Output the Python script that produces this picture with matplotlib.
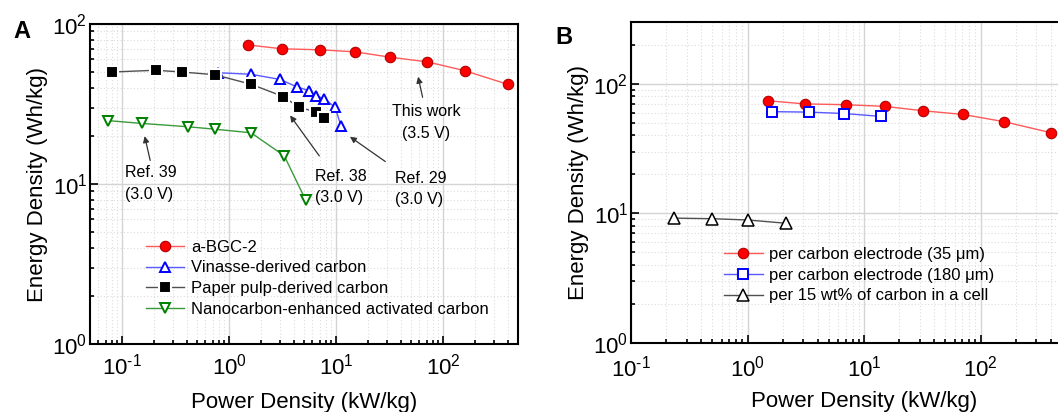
import matplotlib
matplotlib.use('Agg')
import matplotlib.pyplot as plt
from matplotlib.ticker import LogLocator, NullFormatter

plt.rcParams['font.family'] = ['Liberation Sans', 'DejaVu Sans']
plt.rcParams['mathtext.fontset'] = 'custom'
plt.rcParams['mathtext.rm'] = 'Liberation Sans'
plt.rcParams['axes.unicode_minus'] = False

# ---- Panel A data ----
bgc_p = [1.5, 3.1, 7.0, 15, 32, 71, 160, 400]
bgc_e = [74, 70, 69, 67, 62, 58, 51, 42]

vin_p = [0.79, 1.6, 3.0, 4.3, 5.6, 6.5, 7.7, 9.8, 11.1]
vin_e = [49.6, 48.5, 45, 40.4, 38.3, 35.5, 34.2, 30.1, 22.9]

pulp_p = [0.08, 0.206, 0.363, 0.735, 1.6, 3.2, 4.5, 6.5, 7.7]
pulp_e = [50.1, 51.4, 50.1, 48.2, 42, 35.2, 30.1, 28.2, 25.9]

nano_p = [0.073, 0.154, 0.41, 0.735, 1.6, 3.27, 5.2]
nano_e = [24.9, 23.9, 22.8, 22.0, 20.9, 15.0, 7.9]

labels_a = ['a-BGC-2', 'Vinasse-derived carbon', 'Paper pulp-derived carbon',
            'Nanocarbon-enhanced activated carbon']

# ---- Panel B data ----
el35_p = [1.5, 3.1, 7.0, 15, 32, 71, 160, 400]
el35_e = [74, 70, 69, 67, 62, 58, 51, 42]

el180_p = [1.61, 3.34, 6.76, 14.1]
el180_e = [61, 60.5, 59, 56]

cell_p = [0.236, 0.5, 1.0, 2.13]
cell_e = [9.2, 9.1, 8.9, 8.4]

labels_b = ['per carbon electrode (35 \u03bcm)', 'per carbon electrode (180 \u03bcm)',
            'per 15 wt% of carbon in a cell']

x_ticks = [0.1, 1, 10, 100, 1000]
x_tick_labels = ['$\\mathdefault{10^{\\text{-}1}}$', '$\\mathdefault{10^{0}}$',
                 '$\\mathdefault{10^{1}}$', '$\\mathdefault{10^{2}}$',
                 '$\\mathdefault{10^{3}}$']


def style_axes(ax, xlim, ylim):
    ax.set_xscale('log')
    ax.set_yscale('log')
    ax.set_xlim(*xlim)
    ax.set_ylim(*ylim)
    ax.yaxis.set_major_locator(LogLocator(base=10, numticks=10))
    ax.xaxis.set_minor_locator(LogLocator(base=10, subs=range(2, 10), numticks=20))
    ax.yaxis.set_minor_locator(LogLocator(base=10, subs=range(2, 10), numticks=20))
    ax.xaxis.set_minor_formatter(NullFormatter())
    ax.yaxis.set_minor_formatter(NullFormatter())
    ax.grid(True, which='major', color='#d4d4d4', lw=1.0)
    ax.grid(True, which='minor', color='#dcdcdc', lw=0.8, ls=(0, (1, 2)))
    ax.set_axisbelow(True)
    ax.tick_params(which='both', direction='in', top=False, right=False,
                   labelsize=16, width=1.2)
    ax.tick_params(which='major', length=6)
    ax.tick_params(axis='x', which='major', pad=7)
    ax.tick_params(axis='y', which='major', pad=2)
    ax.tick_params(which='minor', length=3)
    for s in ax.spines.values():
        s.set_linewidth(1.5)
    ax.set_xlabel('Power Density (kW/kg)', fontsize=16, labelpad=9)
    ax.set_ylabel('Energy Density (Wh/kg)', fontsize=16, labelpad=3)


fig = plt.figure(figsize=(10.58, 4.12), dpi=100)

# ---------------- Panel A ----------------
ax1 = fig.add_axes([90 / 1058, 68 / 412, 428 / 1058, 320 / 412])
style_axes(ax1, (0.05, 500), (1, 100))
ax1.set_xticks(x_ticks[:-1], x_tick_labels[:-1])
ax1.set_xlim(0.05, 500)

ax1.plot(bgc_p, bgc_e, '-o', color='#ff5a5a', lw=1, mfc='#ff0000', mec='#b00000',
         ms=7.5, mew=0.8, label=labels_a[0])
ax1.plot(vin_p, vin_e, '-^', color='#5a5aff', lw=1, mfc='white', mec='#0000ff',
         ms=7, mew=1.4, label=labels_a[1])
ax1.plot(pulp_p, pulp_e, '-s', color='#505050', lw=1, mfc='black', mec='white',
         ms=8, mew=1.5, label=labels_a[2])
ax1.plot(nano_p, nano_e, '-v', color='#3a9a3a', lw=1, mfc='white', mec='#008000',
         ms=7, mew=1.4, label=labels_a[3])

arrow = dict(arrowstyle='-|>', color='#333333', lw=0.9, mutation_scale=9)
ax1.annotate('', xy=(57.5, 48.7), xytext=(65, 33.5), arrowprops=arrow)
ax1.annotate('', xy=(0.16, 20.7), xytext=(0.185, 13.5), arrowprops=arrow)
ax1.annotate('', xy=(3.58, 27.7), xytext=(7.2, 14.5), arrowprops=arrow)
ax1.annotate('', xy=(12.8, 20.2), xytext=(30.2, 13.5), arrowprops=arrow)

note_kw = dict(va='center', fontsize=11.5, linespacing=1.55)
ax1.text(69, 24.2, 'This work\n(3.5 V)', ha='center', **note_kw)
ax1.text(0.107, 10.1, 'Ref. 39\n(3.0 V)', ha='left', **note_kw)
ax1.text(6.4, 9.6, 'Ref. 38\n(3.0 V)', ha='left', **note_kw)
ax1.text(35.4, 9.3, 'Ref. 29\n(3.0 V)', ha='left', **note_kw)

ax1.legend(loc='upper left', bbox_to_anchor=(0.131, 0.325), frameon=False,
           fontsize=12, handlelength=2.3, handletextpad=0.4, labelspacing=0.33,
           borderpad=0, borderaxespad=0)

fig.text(22 / 1058, 1 - 32 / 412, 'A', fontsize=17, fontweight='bold',
         ha='center', va='center')

# ---------------- Panel B ----------------
ax2 = fig.add_axes([631 / 1058, 69 / 412, 466 / 1058, 321 / 412])
style_axes(ax2, (0.1, 1000), (1, 300))
# the 10^3 tick sits past the right edge of the figure
ax2.set_xticks(x_ticks, x_tick_labels[:-1] + [''])
ax2.set_xlim(0.1, 1000)
ax2.tick_params(axis='x', which='major', pad=9)
ax2.xaxis.labelpad = 7

ax2.plot(el35_p, el35_e, '-o', color='#ff5a5a', lw=1, mfc='#ff0000', mec='#b00000',
         ms=7.5, mew=0.8, label=labels_b[0])
ax2.plot(el180_p, el180_e, '-s', color='#5a5aff', lw=1, mfc='white', mec='#0000ff',
         ms=7, mew=1.4, label=labels_b[1])
ax2.plot(cell_p, cell_e, '-^', color='#505050', lw=1, mfc='white', mec='black',
         ms=8, mew=1.1, label=labels_b[2])

ax2.legend(loc='upper left', bbox_to_anchor=(0.2, 0.3), frameon=False,
           fontsize=12, handlelength=2.3, handletextpad=0.4, labelspacing=0.35,
           borderpad=0, borderaxespad=0)

fig.text(564 / 1058, 1 - 38 / 412, 'B', fontsize=17, fontweight='bold',
         ha='center', va='center')

fig.savefig('out.png', dpi=100)
